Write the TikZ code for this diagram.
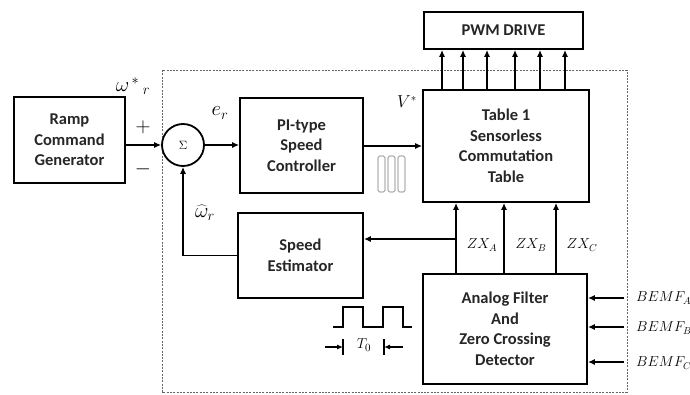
\documentclass[tikz,border=0pt]{standalone}
\usepackage{fontspec}
\setmainfont{Carlito}
\usetikzlibrary{arrows.meta,calc}
\begin{document}
\begin{tikzpicture}[x=1pt,y=-1pt,
  blk/.style={draw,line width=1.8pt,align=center,text=black!85,
    font=\fontsize{16.5}{20.5}\selectfont\bfseries,inner sep=0pt},
  arr/.style={line width=1.3pt,-{Latex[length=7pt,width=6pt]}},
  lbl/.style={font=\fontsize{14.5}{16}\selectfont,inner sep=0pt},
  biglbl/.style={font=\fontsize{20}{22}\selectfont,inner sep=0pt},
  frame/.style={draw=black!60,line width=0.8pt,dash pattern=on 2pt off 1.3pt},
  pwmsym/.style={draw=black!55,line width=0.6pt,rounded corners=1.5pt},
]
\useasboundingbox (0,0) rectangle (690,395);

% dashed frame
\draw[frame] (162,70) rectangle (627,392);

% blocks
\node[blk,minimum width=111pt,minimum height=86pt] (ramp) at (69.5,140) {Ramp\\Command\\Generator};
\node[draw,circle,line width=1.8pt,minimum size=42pt,inner sep=0pt,fill=white] (sum) at (183,145) {\fontsize{13}{14}\selectfont$\Sigma$};
\node[blk,minimum width=123pt,minimum height=95pt] (pi) at (301.5,145.5) {PI-type\\Speed\\Controller};
\node[blk,minimum width=166pt,minimum height=112pt] (table) at (506,146) {Table 1\\Sensorless\\Commutation\\Table};
\node[blk,minimum width=159pt,minimum height=37pt] (pwm) at (503.5,30.5) {PWM DRIVE};
\node[blk,minimum width=125pt,minimum height=85pt] (est) at (300.5,255.5) {Speed\\Estimator};
\node[blk,minimum width=164pt,minimum height=110pt] (afz) at (505,329) {Analog Filter\\And\\Zero Crossing\\Detector};

% forward path
\draw[arr] (ramp.east |- sum.west) -- (sum.west);
\draw[arr] (sum.east) -- (sum.east -| pi.west);
\draw[arr] (pi.east |- table.west) -- (table.west);

% PWM arrows
\foreach \dx in {-64,-43,-19,9,34,59}
  \draw[arr] ($(table.north)+(\dx,0)$) -- ($(table.north |- pwm.south)+(\dx,0)$);

% ZX arrows
\foreach \dx in {-49,-1,51}
  \draw[arr] ($(afz.north)+(\dx,0)$) -- ($(afz.north |- table.south)+(\dx,0)$);

% tap to speed estimator
\coordinate (tap) at (456,239);
\draw[arr] (tap) -- (tap -| est.east);

% feedback
\draw[arr] (est.west) -- (est.west -| sum.south) -- (sum.south);

% BEMF inputs
\coordinate (b1) at (624,298);
\coordinate (b2) at (624,327);
\coordinate (b3) at (624,362);
\draw[arr] (b1) -- (b1 -| afz.east);
\draw[arr] (b2) -- (b2 -| afz.east);
\draw[arr] (b3) -- (b3 -| afz.east);

% labels
\node[biglbl] (wref) at (133,86) {$\omega^{\,*}\,{}_{r}$};
\node[biglbl] (plus) at (143,127) {$+$};
\node[biglbl] (minus) at (143,169) {$-$};
\node[biglbl] (er) at (220,113) {$e_r$};
\node[lbl,font=\fontsize{16}{18}\selectfont] (vs) at (407,102) {$V^{*}$};
\node[biglbl] (wh) at (205,213) {$\widehat{\omega}_r$};
\node[lbl] (zxa) at (482,245) {$ZX_A$};
\node[lbl] (zxb) at (531,245) {$ZX_B$};
\node[lbl] (zxc) at (582,245) {$ZX_C$};
\node[lbl,anchor=west] (la) at (636,298) {$BEMF_A$};
\node[lbl,anchor=west] (lb) at (636,328) {$BEMF_B$};
\node[lbl,anchor=west] (lc) at (636,363) {$BEMF_C$};

% PWM symbol
\foreach \x in {378,388,398}
  \draw[pwmsym] (\x,156) rectangle ++(7,36);

% pulse train
\draw[line width=1.2pt] (333,327) -- (343,327) -- (343,307) -- (363,307) -- (363,327)
  -- (383,327) -- (383,307) -- (403,307) -- (403,327) -- (412,327);
\coordinate (t1) at (343,347);
\coordinate (t2) at (384,347);
\draw[line width=1.2pt] (343,339) -- (343,355);
\draw[line width=1.2pt] (384,339) -- (384,355);
\draw[line width=1.1pt,-{Latex[length=6pt,width=5pt]}] (325,347) -- (t1);
\draw[line width=1.1pt,-{Latex[length=6pt,width=5pt]}] (403,347) -- (t2);
\node[lbl,font=\fontsize{15}{17}\selectfont] (t0) at (364,345) {$T_0$};
\end{tikzpicture}
\end{document}
